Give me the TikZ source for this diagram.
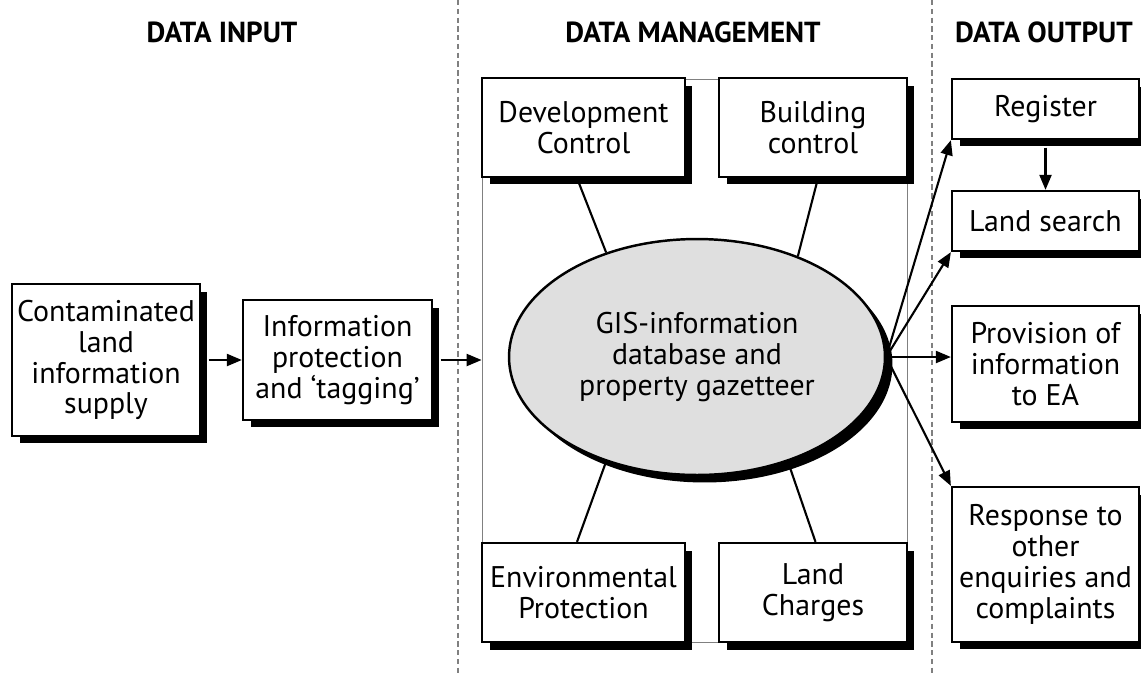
\documentclass[tikz,border=0pt]{standalone}
\usepackage{fontspec}
\setmainfont{PT Sans}
\usetikzlibrary{shapes.geometric,shadows,arrows.meta}
\newcommand{\boxfont}{\fontsize{17}{17.6}\selectfont}

\begin{document}
\begin{tikzpicture}[x=0.02cm, y=-0.02cm,
    shade/.style={drop shadow={shadow xshift=0.15cm, shadow yshift=-0.15cm, fill=black, opacity=1}},
    box/.style={draw, line width=1.3pt, fill=white, align=center, inner sep=0pt, font=\boxfont, shade},
    head/.style={font=\bfseries\fontsize{16.5}{18}\selectfont},
    link/.style={line width=1.2pt},
    arr/.style={line width=1.2pt, -{Triangle[length=0.3cm, width=0.24cm]}}]
    \useasboundingbox (0, 0) rectangle (1141, 673);
    \draw[gray, line width=0.6pt, dash pattern=on 3pt off 2pt] (458, 0) -- (458, 673);
    \draw[gray, line width=0.6pt, dash pattern=on 3pt off 2pt] (932, 0) -- (932, 673);
    \node[head] (hin) at (222, 32) {DATA INPUT};
    \node[head] (hman) at (693, 32) {DATA MANAGEMENT};
    \node[head] (hout) at (1044, 32) {DATA OUTPUT};
    \node[draw=gray, line width=0.5pt, minimum width=8.5cm, minimum height=11.26cm] (mgmt) at (694.5, 360.5) {};
    \node[box, minimum width=3.76cm, minimum height=3.04cm] (supply) at (106, 360) {Contaminated\\land\\information\\supply};
    \node[box, minimum width=3.78cm, minimum height=2.4cm] (tag) at (337.5, 360) {Information\\protection\\and `tagging'};
    \node[box, minimum width=4.06cm, minimum height=1.98cm] (dev) at (583.5, 127.5) {Development\\Control};
    \node[box, minimum width=3.76cm, minimum height=1.98cm] (bld) at (813, 127.5) {Building\\control};
    \node[box, minimum width=4.06cm, minimum height=1.98cm] (env) at (583.5, 592.5) {Environmental\\Protection};
    \node[box, minimum width=3.76cm, minimum height=1.98cm] (chg) at (813, 592.5) {Land\\Charges};
    \node[ellipse, draw, line width=1.4pt, fill=gray!25, minimum width=7.52cm, minimum height=4.72cm,
        inner sep=0pt, align=center, font=\boxfont, shade] (gis) at (697, 357) {GIS-information\\database and\\property gazetteer};
    \node[box, minimum width=3.74cm, minimum height=1.2cm] (reg) at (1045.5, 109) {Register};
    \node[box, minimum width=3.74cm, minimum height=1.2cm] (search) at (1045.5, 221) {Land search};
    \node[box, minimum width=3.74cm, minimum height=2.32cm] (ea) at (1045.5, 364) {Provision of\\information\\to EA};
    \node[box, minimum width=3.74cm, minimum height=3.1cm] (resp) at (1045.5, 564.5) {Response to\\other\\enquiries and\\complaints};
    \draw[arr] ([xshift=0.15cm]supply.east) -- (tag.west);
    \draw[arr] ([xshift=0.15cm]tag.east) -- (tag.east -| mgmt.west);
    \draw[link] ([xshift=-0.13cm]dev.south) -- (gis.131);
    \draw[link] ([xshift=0.1cm]bld.south) -- (gis.45);
    \draw[link] ([xshift=-0.13cm]env.north) -- (gis.229);
    \draw[link] ([xshift=0.05cm]chg.north) -- (gis.311);
    \draw[arr] (gis.east) -- (reg.south west);
    \draw[arr] (gis.east) -- (search.south west);
    \draw[arr] (gis.east) -- (gis.east -| ea.west);
    \draw[arr] (gis.east) -- (resp.north west);
    \draw[arr] ([yshift=-0.15cm]reg.south) -- (search.north);
  \end{tikzpicture}
\end{document}
